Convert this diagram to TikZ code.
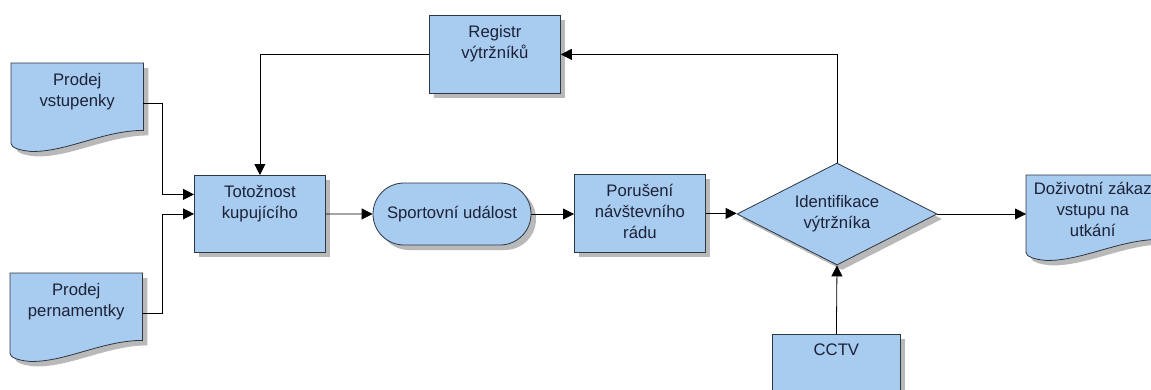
\documentclass[tikz,border=0pt]{standalone}
\usepackage{fontspec}
\setmainfont{Liberation Sans}
\usetikzlibrary{arrows.meta,shapes.geometric,shapes.misc,shadows,backgrounds,calc}

\definecolor{boxfill}{RGB}{168,203,240}
\definecolor{boxline}{RGB}{45,55,68}
\definecolor{shadowgray}{RGB}{185,185,185}
\definecolor{textcol}{RGB}{28,34,55}

% fixed-size cell with its text set from the top
\newcommand\cell[4]{\parbox[c][#2][t]{#1}{\centering\rule{0pt}{#3}#4\par}}

\tikzset{
  dshadow/.style={drop shadow={shadow xshift=5pt,shadow yshift=-5pt,fill=shadowgray,opacity=1}},
  procbox/.style={draw=boxline,fill=boxfill,line width=0.8pt,inner sep=0pt,dshadow,text=textcol},
  doctext/.style={inner sep=0pt,text=textcol},
  docbody/.style={draw=boxline,fill=boxfill,line width=0.8pt,dshadow},
  flow/.style={line width=0.8pt,-{Triangle[length=11pt,width=11pt]}},
}

% document symbol (wavy bottom) drawn behind a named text node
\newcommand\docshape[1]{%
  \begin{pgfonlayer}{background}
    \path[docbody] let \p1=(#1.north west), \p2=(#1.south east) in
      (\x1,\y1) -- (\x2,\y1) -- (\x2,\y2+13pt)
      .. controls (\x2-40pt,\y2+13pt) and (\x1+55pt,\y2-9pt) .. (\x1+20pt,\y2-8pt)
      .. controls (\x1+8pt,\y2-7pt) and (\x1,\y2-4pt) .. (\x1,\y2) -- cycle;
  \end{pgfonlayer}}

\begin{document}
\begin{tikzpicture}[x=1pt,y=-1pt,font=\fontsize{16.7pt}{21pt}\selectfont]
  \useasboundingbox (0,0) rectangle (1151,389);

  % inputs
  \node[doctext,anchor=north west] (vst) at (11,63) {\cell{132pt}{80pt}{22pt}{Prodej\\vstupenky}};
  \docshape{vst}
  \node[doctext,anchor=north west] (per) at (10,273) {\cell{132pt}{80pt}{22pt}{Prodej\\pernamentky}};
  \docshape{per}

  % main flow
  \node[procbox,anchor=north west] (tot) at (194,175) {\cell{131pt}{77pt}{22pt}{Totožnost\\kupujícího}};
  \node[procbox,rounded rectangle,minimum width=158pt,minimum height=62pt] (st) at (452,214) {Sportovní událost};
  \node[procbox,anchor=north west] (por) at (574,174) {\cell{131pt}{78pt}{22pt}{Porušení\\návštevního\\rádu}};
  \node[procbox,diamond,shape aspect=2,minimum width=200pt,minimum height=102pt,align=center] (dia) at (837,214) {Identifikace\\výtržníka};
  \node[procbox,anchor=north west] (reg) at (429,15) {\cell{131pt}{78pt}{22pt}{Registr\\výtržníků}};
  \node[doctext,anchor=north west] (doz) at (1026,175) {\cell{133pt}{77pt}{19pt}{Doživotní zákaz\\vstupu na\\utkání}};
  \docshape{doz}
  \node[procbox,anchor=north west] (cctv) at (772,334) {\cell{128pt}{72pt}{21pt}{CCTV}};

  % connectors
  \draw[flow] (vst.east) -- ++(19,0) |- ($(tot.west)+(0,-19.5)$);
  \draw[flow] (per.east) -- ++(20,0) |- (tot.west);
  \draw[flow] (tot.east) -- (st.west);
  \draw[flow] (st.east) -- (st.east -| por.west);
  \draw[flow] (por.east) -- (por.east -| dia.west);
  \draw[flow] (dia.east) -- (dia.east -| doz.west);
  \draw[flow] (cctv.north) -- (dia.south);
  \draw[flow] (dia.north) |- (reg.east);
  \draw[flow] (reg.west) -| (tot.north);
\end{tikzpicture}
\end{document}
